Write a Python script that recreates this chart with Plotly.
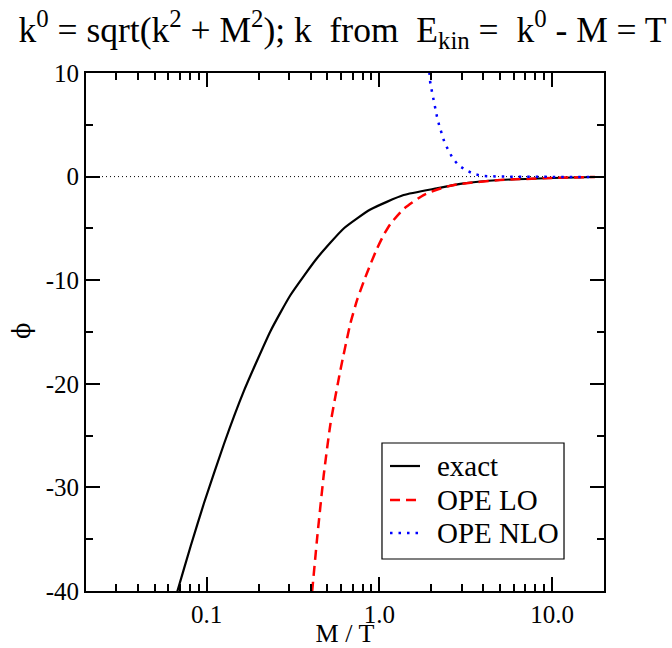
import plotly.graph_objects as go

# ---- data ----
exact_x = [0.060, 0.0677, 0.0808, 0.0965, 0.1259, 0.1643, 0.2344, 0.3058, 0.4363, 0.6217,
           0.8871, 1.382, 2.156, 2.939, 5.005, 10.0, 17.73]
exact_y = [-43.0, -40.0, -35.66, -31.51, -25.81, -20.69, -14.90, -11.43, -7.86, -5.01,
           -3.18, -1.78, -1.13, -0.71, -0.33, -0.135, -0.04]

lo_x = [0.400, 0.4083, 0.4363, 0.4764, 0.5208, 0.5950, 0.6799, 0.7433, 0.8113, 0.8871,
        0.9699, 1.059, 1.1577, 1.382, 1.803, 2.353, 2.939, 5.005, 10.0, 17.73]
lo_y = [-41.6, -40.0, -34.88, -28.80, -23.88, -18.67, -14.16, -11.91, -10.14, -8.48,
        -6.94, -5.64, -4.58, -3.13, -1.78, -1.05, -0.71, -0.33, -0.135, -0.04]

nlo_x = [1.932, 1.954, 1.971, 2.017, 2.060, 2.107, 2.156, 2.223, 2.304, 2.385, 2.515,
         2.667, 2.873, 3.171, 3.540, 3.955, 5.0, 7.0, 10.0, 14.0, 17.73]
nlo_y = [10.87, 9.98, 9.06, 8.20, 7.40, 6.60, 5.79, 4.92, 4.12, 3.28, 2.52,
         1.73, 1.10, 0.61, 0.25, 0.06, 0.0, -0.03, -0.05, -0.04, -0.03]

zero_x = [0.02, 20.0]
zero_y = [0.0, 0.0]

series_names = ["exact", "OPE LO", "OPE NLO"]

x_tickvals = [0.1, 1.0, 10.0]
x_ticktext = ["0.1", "1.0", "10.0"]
x_minor = [0.03, 0.04, 0.05, 0.06, 0.07, 0.08, 0.09,
           0.2, 0.3, 0.4, 0.5, 0.6, 0.7, 0.8, 0.9,
           2, 3, 4, 5, 6, 7, 8, 9]
y_tickvals = [-40, -30, -20, -10, 0, 10]
y_ticktext = ["-40", "-30", "-20", "-10", "0", "10"]

FONT = "Liberation Serif"
NB = "\u00a0"
styles = [
    dict(color="black", width=2.2),
    dict(color="#ff0000", width=2.5, dash="10px,6px"),
    dict(color="#0000ff", width=2.5, dash="2.5px,6px"),
]

fig = go.Figure()
fig.add_trace(go.Scatter(x=zero_x, y=zero_y, mode="lines", showlegend=False,
                         line=dict(color="black", width=1, dash="1px,3px")))
fig.add_trace(go.Scatter(x=exact_x, y=exact_y, mode="lines", name=series_names[0], showlegend=False,
                         line=dict(**styles[0], shape="spline", smoothing=0.5)))
fig.add_trace(go.Scatter(x=lo_x, y=lo_y, mode="lines", name=series_names[1], showlegend=False,
                         line=dict(**styles[1], shape="spline", smoothing=0.5)))
fig.add_trace(go.Scatter(x=nlo_x, y=nlo_y, mode="lines", name=series_names[2], showlegend=False,
                         line=dict(**styles[2])))

# legend box drawn in paper coordinates (xmgrace-like layout)
shapes = [dict(type="rect", xref="paper", yref="paper", x0=0.5714, x1=0.9228, y0=0.0618, y1=0.2857,
               line=dict(color="black", width=1.2), fillcolor="white", layer="above")]
annotations = []
legend_rows = [0.2413, 0.1757, 0.1120]
for name, st, yr in zip(series_names, styles, legend_rows):
    shapes.append(dict(type="line", xref="paper", yref="paper", x0=0.5869, x1=0.6448, y0=yr, y1=yr,
                       line=st, layer="above"))
    annotations.append(dict(xref="paper", yref="paper", x=0.6737, y=yr, xanchor="left", yanchor="middle",
                            text=name, showarrow=False, font=dict(family=FONT, size=29, color="black")))

# y-axis title (phi), rotated like the reference
annotations.append(dict(xref="paper", yref="paper", x=-0.1236, y=0.502, xanchor="center", yanchor="middle",
                        text="\u03d5", textangle=-90, showarrow=False,
                        font=dict(family="DejaVu Serif", size=24, color="black")))

fig.update_layout(
    width=672, height=648,
    margin=dict(l=86, r=68, t=73, b=57),
    paper_bgcolor="white", plot_bgcolor="white",
    font=dict(family=FONT, size=25, color="black"),
    title=dict(text="k<sup>0</sup> = sqrt(k<sup>2</sup> + M<sup>2</sup>); k" + NB * 2 + "from" + NB * 2
                    + "E<sub>kin</sub> =" + NB * 2 + "k<sup>0</sup> - M = T",
               x=0.5097, xanchor="center", y=0.955, yanchor="middle",
               font=dict(family=FONT, size=35.5, color="black")),
    showlegend=False,
    shapes=shapes,
    annotations=annotations,
)
fig.update_xaxes(type="log", range=[-1.69897, 1.30103], automargin=False,
                 tickvals=x_tickvals, ticktext=x_ticktext,
                 ticks="inside", ticklen=14, tickwidth=1.5, tickcolor="black",
                 minor=dict(tickvals=x_minor, ticks="inside", ticklen=7, tickwidth=1.5, tickcolor="black"),
                 showline=True, linecolor="black", linewidth=2, mirror="ticks",
                 showgrid=False, zeroline=False,
                 title=dict(text="M / T", font=dict(family=FONT, size=26), standoff=3),
                 tickfont=dict(family=FONT, size=25))
fig.update_yaxes(range=[-40, 10], automargin=False,
                 tickvals=y_tickvals, ticktext=y_ticktext,
                 ticks="inside", ticklen=14, tickwidth=1.5, tickcolor="black",
                 minor=dict(dtick=5, ticks="inside", ticklen=7, tickwidth=1.5, tickcolor="black"),
                 showline=True, linecolor="black", linewidth=2, mirror="ticks",
                 showgrid=False, zeroline=False,
                 tickfont=dict(family=FONT, size=25))

fig.write_html("out.html")
